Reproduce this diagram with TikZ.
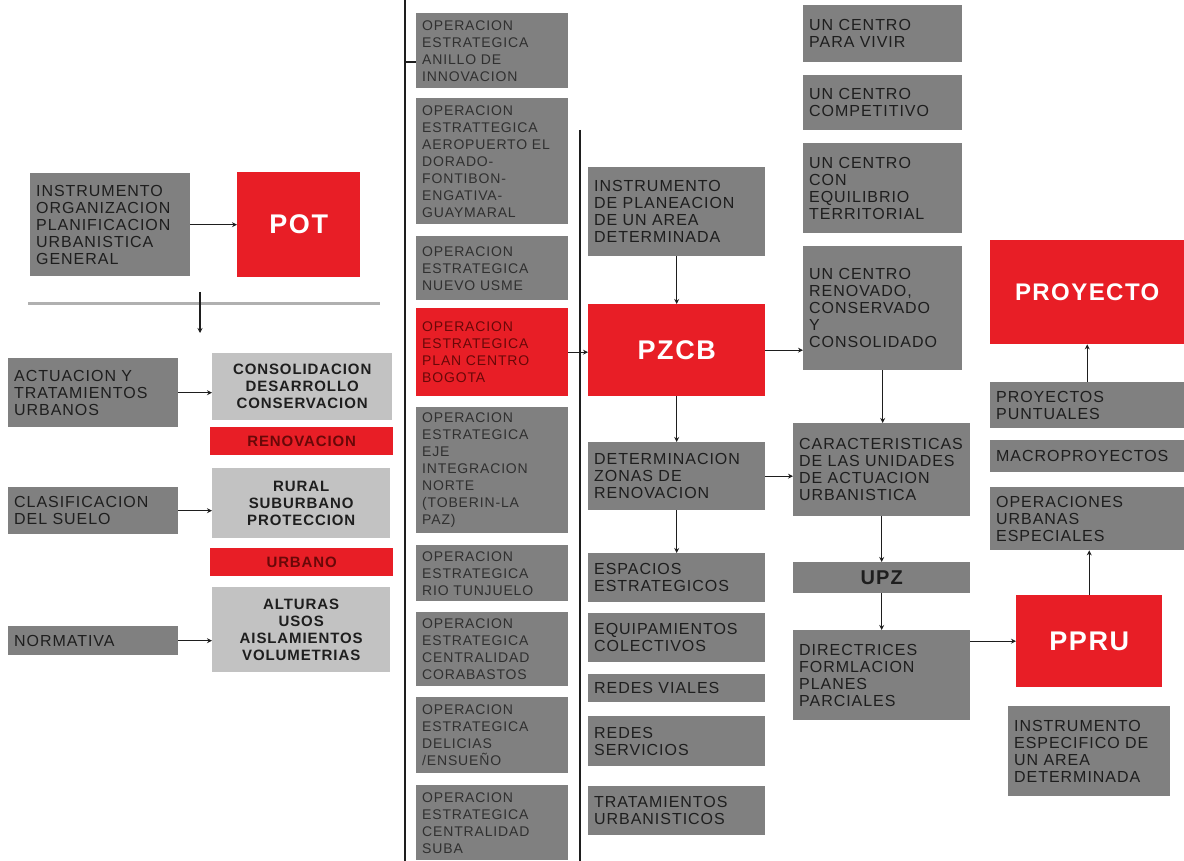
\documentclass[tikz,border=0pt]{standalone}
\usepackage{fontspec}
\setmainfont{Liberation Sans}[LetterSpace=6]
\usetikzlibrary{arrows.meta}
\definecolor{mygray}{RGB}{128,128,128}
\definecolor{mylight}{RGB}{194,194,194}
\definecolor{myred}{RGB}{232,30,38}
\definecolor{mydark}{RGB}{30,30,30}
\definecolor{mytext}{RGB}{48,48,48}
\definecolor{mydarkred}{RGB}{105,8,8}
\definecolor{mysep}{RGB}{176,176,176}
\newcommand{\LINEPT}{1.2pt}
\tikzset{
	box/.style={anchor=north west, inner xsep=6pt, inner ysep=0pt, text=mydark},
	gbox/.style={box, fill=mygray, align=left, font=\fontsize{16}{17}\selectfont},
	mbox/.style={gbox, text width=140pt, text=mytext, font=\fontsize{14}{17}\selectfont},
	lbox/.style={box, fill=mylight, align=center, font=\bfseries\fontsize{15}{17}\selectfont},
	rbar/.style={box, fill=myred, align=center, text=mydarkred, font=\bfseries\fontsize{15}{17}\selectfont},
	rbox/.style={box, fill=myred, align=center, text=white, font=\bfseries\fontsize{27}{30}\selectfont},
	conn/.style={draw=mydark, line width=\LINEPT, -{Stealth[length=5pt,width=5pt]}},
	sepline/.style={draw=mydark, line width=1.5pt},
}
\begin{document}
\begin{tikzpicture}[x=1pt,y=-1pt]

		\useasboundingbox (0,0) rectangle (1184,861);

		%% separators
		\coordinate (sepAtop) at (405,0);
		\coordinate (sepAbot) at (405,861);
		\coordinate (sepBtop) at (580,130);
		\coordinate (sepBbot) at (580,861);
		\coordinate (hlineL) at (28,303);
		\coordinate (hlineR) at (380,303);
		\coordinate (splittop) at (200,292);
		\coordinate (splitbot) at (200,333);
		\coordinate (tick) at (405,62);

		\draw[sepline] (sepAtop) -- (sepAbot);
		\draw[sepline] (sepBtop) -- (sepBbot);
		\draw[draw=mysep, line width=3pt] (hlineL) -- (hlineR);

		%% POT column
		\node[gbox, text width=148pt, minimum height=103pt] (instr) at (30,173) {INSTRUMENTO\\ORGANIZACION\\PLANIFICACION\\URBANISTICA\\GENERAL};
		\node[rbox, minimum width=123pt, minimum height=105pt] (pot) at (237,172) {POT};

		\node[gbox, text width=158pt, minimum height=69pt] (actuacion) at (8,358) {ACTUACION Y\\TRATAMIENTOS\\URBANOS};
		\node[lbox, text width=168pt, minimum height=67pt] (consol) at (212,353) {CONSOLIDACION\\DESARROLLO\\CONSERVACION};
		\node[rbar, text width=171pt, minimum height=28pt] (renov) at (210,427) {RENOVACION};
		\node[gbox, text width=158pt, minimum height=47pt] (clasif) at (8,487) {CLASIFICACION\\DEL SUELO};
		\node[lbox, text width=166pt, minimum height=70pt] (rural) at (212,468) {RURAL\\SUBURBANO\\PROTECCION};
		\node[rbar, text width=171pt, minimum height=28pt] (urbano) at (210,548) {URBANO};
		\node[gbox, text width=158pt, minimum height=29pt] (normativa) at (8,626) {NORMATIVA};
		\node[lbox, text width=166pt, minimum height=85pt] (alturas) at (212,587) {ALTURAS\\USOS\\AISLAMIENTOS\\VOLUMETRIAS};

		%% operaciones estrategicas
		\node[mbox, minimum height=75pt] (opanillo) at (416,13) {OPERACION\\ESTRATEGICA\\ANILLO DE\\INNOVACION};
		\node[mbox, minimum height=126pt] (opaero) at (416,98) {OPERACION\\ESTRATTEGICA\\AEROPUERTO EL\\DORADO-\\FONTIBON-\\ENGATIVA-\\GUAYMARAL};
		\node[mbox, minimum height=64pt] (opusme) at (416,236) {OPERACION\\ESTRATEGICA\\NUEVO USME};
		\node[mbox, fill=myred, text=mydarkred, minimum height=88pt] (plancentro) at (416,308) {OPERACION\\ESTRATEGICA\\PLAN CENTRO\\BOGOTA};
		\node[mbox, minimum height=126pt] (opnorte) at (416,407) {OPERACION\\ESTRATEGICA\\EJE\\INTEGRACION\\NORTE\\(TOBERIN-LA\\PAZ)};
		\node[mbox, minimum height=56pt] (optunjuelo) at (416,545) {OPERACION\\ESTRATEGICA\\RIO TUNJUELO};
		\node[mbox, minimum height=74pt] (opcorabastos) at (416,612) {OPERACION\\ESTRATEGICA\\CENTRALIDAD\\CORABASTOS};
		\node[mbox, minimum height=76pt] (opdelicias) at (416,697) {OPERACION\\ESTRATEGICA\\DELICIAS\\/ENSUEÑO};
		\node[mbox, minimum height=75pt] (opsuba) at (416,785) {OPERACION\\ESTRATEGICA\\CENTRALIDAD\\SUBA};

		%% PZCB column
		\node[gbox, text width=165pt, minimum height=89pt] (instrplan) at (588,167) {INSTRUMENTO\\DE PLANEACION\\DE UN AREA\\DETERMINADA};
		\node[rbox, minimum width=177pt, minimum height=92pt] (pzcb) at (588,304) {PZCB};
		\node[gbox, text width=165pt, minimum height=68pt] (determ) at (588,442) {DETERMINACION\\ZONAS DE\\RENOVACION};
		\node[gbox, text width=165pt, minimum height=49pt] (espacios) at (588,553) {ESPACIOS\\ESTRATEGICOS};
		\node[gbox, text width=165pt, minimum height=49pt] (equip) at (588,613) {EQUIPAMIENTOS\\COLECTIVOS};
		\node[gbox, text width=165pt, minimum height=28pt] (viales) at (588,674) {REDES VIALES};
		\node[gbox, text width=165pt, minimum height=50pt] (servicios) at (588,716) {REDES\\SERVICIOS};
		\node[gbox, text width=165pt, minimum height=49pt] (tratam) at (588,786) {TRATAMIENTOS\\URBANISTICOS};

		%% un centro column
		\node[gbox, text width=147pt, minimum height=57pt] (vivir) at (803,5) {UN CENTRO\\PARA VIVIR};
		\node[gbox, text width=147pt, minimum height=55pt] (compet) at (803,75) {UN CENTRO\\COMPETITIVO};
		\node[gbox, text width=147pt, minimum height=90pt] (equil) at (803,143) {UN CENTRO\\CON\\EQUILIBRIO\\TERRITORIAL};
		\node[gbox, text width=147pt, minimum height=124pt] (renovado) at (803,246) {UN CENTRO\\RENOVADO,\\CONSERVADO\\Y\\CONSOLIDADO};
		\node[gbox, text width=165pt, minimum height=93pt] (caract) at (793,423) {CARACTERISTICAS\\DE LAS UNIDADES\\DE ACTUACION\\URBANISTICA};
		\node[gbox, align=center, text width=165pt, minimum height=31pt, font=\bfseries\fontsize{20}{22}\selectfont] (upz) at (793,562) {UPZ};
		\node[gbox, text width=165pt, minimum height=90pt] (directrices) at (793,630) {DIRECTRICES\\FORMLACION\\PLANES\\PARCIALES};

		%% proyecto column
		\node[rbox, minimum width=194pt, minimum height=104pt, font=\bfseries\fontsize{24}{26}\selectfont] (proyecto) at (990,240) {PROYECTO};
		\node[gbox, text width=182pt, minimum height=46pt] (puntuales) at (990,382) {PROYECTOS\\PUNTUALES};
		\node[gbox, text width=182pt, minimum height=32pt] (macro) at (990,440) {MACROPROYECTOS};
		\node[gbox, text width=182pt, minimum height=63pt] (operaciones) at (990,487) {OPERACIONES\\URBANAS\\ESPECIALES};
		\node[rbox, minimum width=146pt, minimum height=92pt] (ppru) at (1016,595) {PPRU};
		\node[gbox, text width=150pt, minimum height=90pt] (especifico) at (1008,706) {INSTRUMENTO\\ESPECIFICO DE\\UN AREA\\DETERMINADA};

		%% connectors
		\draw[sepline, line width=\LINEPT] (tick) -- (tick -| opanillo.west);
		\draw[conn] (instr.east) -- (pot.west);
		\draw[conn] (splittop) -- (splitbot);
		\draw[conn] (actuacion.east) -- (actuacion.east -| consol.west);
		\draw[conn] (clasif.east) -- (clasif.east -| rural.west);
		\draw[conn] (normativa.east) -- (normativa.east -| alturas.west);
		\draw[conn] (plancentro.east) -- (plancentro.east -| pzcb.west);
		\draw[conn] (instrplan.south) -- (pzcb.north);
		\draw[conn] (pzcb.east) -- (pzcb.east -| renovado.west);
		\draw[conn] (pzcb.south) -- (determ.north);
		\draw[conn] (determ.east) -- (determ.east -| caract.west);
		\draw[conn] (determ.south) -- (espacios.north);
		\draw[conn] (renovado.south) -- (renovado.south |- caract.north);
		\draw[conn] (caract.south) -- (upz.north);
		\draw[conn] (upz.south) -- (directrices.north);
		\draw[conn] (ppru.west -| directrices.east) -- (ppru.west);
		\draw[conn] (puntuales.north) -- (proyecto.south);
		\draw[conn] (ppru.north) -- (ppru.north |- operaciones.south);

	\end{tikzpicture}
\end{document}
